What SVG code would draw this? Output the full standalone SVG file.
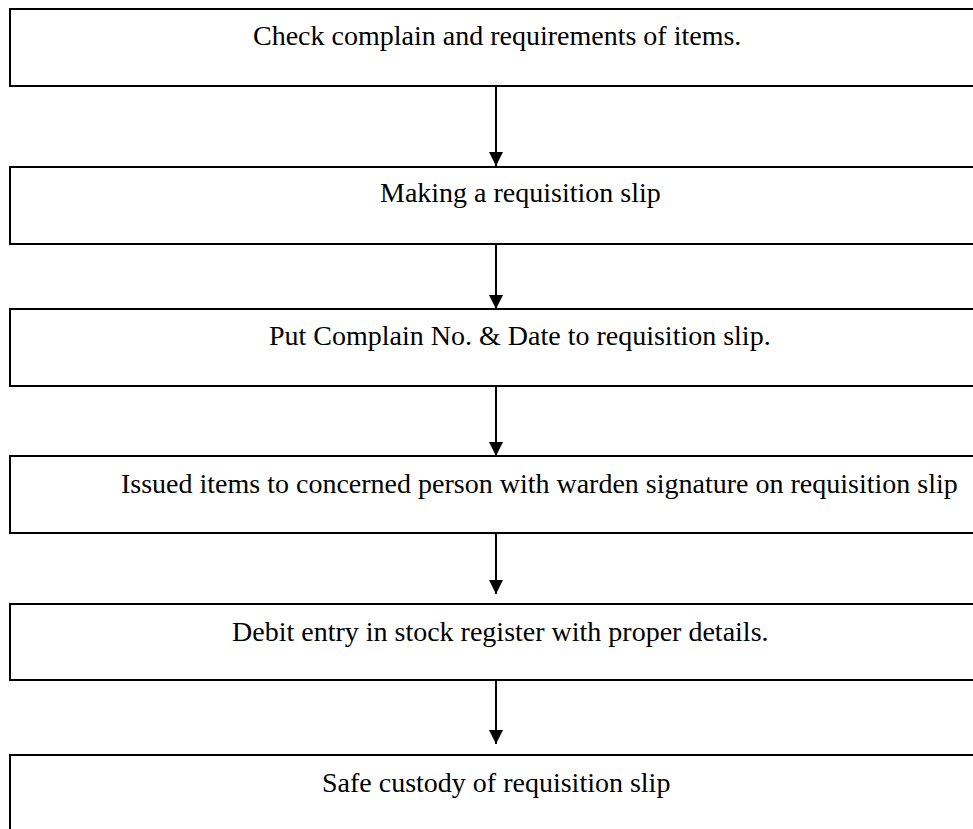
<svg xmlns="http://www.w3.org/2000/svg" width="973" height="829" viewBox="0 0 973 829">
<defs>
<style>
.box{fill:#fff;stroke:#000;stroke-width:2}
.t{font-family:"Liberation Serif","Times New Roman",serif;font-size:28px;fill:#000}
.c{stroke:#000;stroke-width:2;fill:none;marker-end:url(#ah)}
</style>
<marker id="ah" viewBox="0 0 14 14" refX="14" refY="7" markerWidth="14" markerHeight="14" markerUnits="userSpaceOnUse" orient="auto">
<path d="M0,0 L14,7 L0,14 z" fill="#000"/>
</marker>
</defs>
<rect width="973" height="829" fill="#fff"/>
<g id="connectors">
<line class="c" x1="496" y1="86" x2="496" y2="166"/>
<line class="c" x1="496" y1="244" x2="496" y2="309"/>
<line class="c" x1="496" y1="386" x2="496" y2="456"/>
<line class="c" x1="496" y1="533" x2="496" y2="594"/>
<line class="c" x1="496" y1="680" x2="496" y2="744"/>
</g>
<g id="n1"><rect class="box" x="10" y="9" width="980" height="77"/><text class="t" x="253" y="45">Check complain and requirements of items.</text></g>
<g id="n2"><rect class="box" x="10" y="167" width="980" height="77"/><text class="t" x="380" y="202">Making a requisition slip</text></g>
<g id="n3"><rect class="box" x="10" y="309" width="980" height="77"/><text class="t" x="269" y="345">Put Complain No. &amp; Date to requisition slip.</text></g>
<g id="n4"><rect class="box" x="10" y="456" width="980" height="77"/><text class="t" x="121" y="493">Issued items to concerned person with warden signature on requisition slip</text></g>
<g id="n5"><rect class="box" x="10" y="604" width="980" height="76"/><text class="t" x="232" y="641">Debit entry in stock register with proper details.</text></g>
<g id="n6"><rect class="box" x="10" y="755" width="980" height="100"/><text class="t" x="322" y="792">Safe custody of requisition slip</text></g>
</svg>
